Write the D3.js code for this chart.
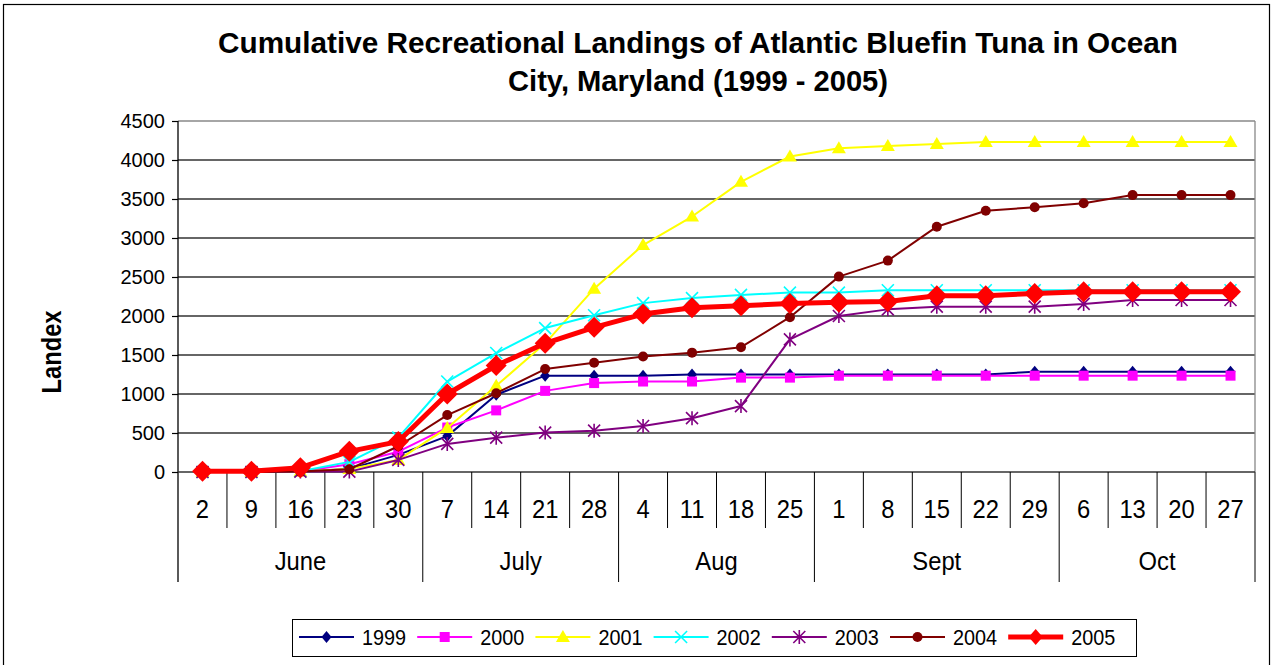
<!DOCTYPE html>
<html>
<head>
<meta charset="utf-8">
<script src="https://cdn.jsdelivr.net/npm/d3@7"></script>
<style>
  html, body { margin: 0; padding: 0; background: #fff; }
  svg { display: block; }
  text { font-family: "Liberation Sans", Arial, sans-serif; fill: #000; }
</style>
</head>
<body>
<svg id="chart" width="1275" height="665"></svg>
<script>
// Weekly tallies, June through October
const days = ["2","9","16","23","30","7","14","21","28","4","11","18","25","1","8","15","22","29","6","13","20","27"];
const months = [
  { name: "June",  start: 0,  end: 5 },
  { name: "July",  start: 5,  end: 9 },
  { name: "Aug",   start: 9,  end: 13 },
  { name: "Sept",  start: 13, end: 18 },
  { name: "Oct",   start: 18, end: 22 }
];
const yTicks = [0, 500, 1000, 1500, 2000, 2500, 3000, 3500, 4000, 4500];

const y1999 = [0,0,5,40,220,460,990,1235,1235,1235,1250,1250,1250,1250,1250,1250,1250,1285,1285,1285,1285,1285];
const y2000 = [0,0,5,100,260,570,790,1040,1140,1160,1160,1210,1210,1235,1235,1235,1235,1235,1235,1235,1235,1235];
const y2001 = [0,0,5,40,155,565,1105,1650,2350,2910,3275,3720,4045,4150,4180,4205,4230,4230,4230,4230,4230,4230];
const y2002 = [0,0,10,130,440,1160,1525,1845,2010,2165,2230,2270,2300,2300,2330,2330,2330,2330,2330,2330,2330,2330];
const y2003 = [0,0,5,5,155,360,440,505,530,590,690,845,1700,2000,2085,2120,2120,2120,2155,2205,2205,2205];
const y2004 = [0,0,5,35,330,730,1010,1320,1400,1480,1530,1600,1985,2505,2710,3145,3350,3395,3445,3550,3550,3550];
const y2005 = [10,10,55,265,390,1000,1365,1650,1855,2025,2105,2130,2160,2175,2185,2260,2260,2290,2310,2310,2310,2310];

const series = [
  { name: "1999", values: y1999, color: "#000080", marker: "diamond",  width: 2 },
  { name: "2000", values: y2000, color: "#FF00FF", marker: "square",   width: 2 },
  { name: "2001", values: y2001, color: "#FFFF00", marker: "triangle", width: 2 },
  { name: "2002", values: y2002, color: "#00FFFF", marker: "x",        width: 2 },
  { name: "2003", values: y2003, color: "#800080", marker: "star",     width: 2 },
  { name: "2004", values: y2004, color: "#800000", marker: "circle",   width: 2 },
  { name: "2005", values: y2005, color: "#FF0000", marker: "bigdiamond", width: 5 }
];

const svg = d3.select("#chart");
const plot = { left: 178, right: 1255, top: 121, bottom: 472 };
const dayRowBottom = 528, monthRowBottom = 582;

// squeeze text horizontally to a narrower set width
function condense(sel, factor) {
  sel.each(function () {
    const w = this.getComputedTextLength();
    d3.select(this).attr("textLength", w * factor).attr("lengthAdjust", "spacingAndGlyphs");
  });
}

// outer frame
svg.append("rect")
  .attr("x", 3.5).attr("y", 4.5).attr("width", 1266).attr("height", 700)
  .attr("fill", "#fff").attr("stroke", "#000").attr("stroke-width", 1.2);

const x = d3.scaleBand().domain(d3.range(days.length)).range([plot.left, plot.right]).padding(0);
const xEdge = i => plot.left + i * x.step();
const y = d3.scaleLinear().domain([0, 4500]).range([plot.bottom, plot.top]);

// title
const title = svg.append("g");
title.append("text")
  .attr("x", 698).attr("y", 53).attr("text-anchor", "middle")
  .attr("font-size", 29).attr("font-weight", "bold")
  .attr("textLength", 960).attr("lengthAdjust", "spacingAndGlyphs")
  .text("Cumulative Recreational Landings of Atlantic Bluefin Tuna in Ocean");
title.append("text")
  .attr("x", 698).attr("y", 91).attr("text-anchor", "middle")
  .attr("font-size", 29).attr("font-weight", "bold")
  .attr("textLength", 380).attr("lengthAdjust", "spacingAndGlyphs")
  .text("City, Maryland (1999 - 2005)");

// horizontal gridlines
svg.append("g").selectAll("line").data(yTicks.filter(t => t > 0)).join("line")
  .attr("x1", plot.left).attr("x2", plot.right)
  .attr("y1", d => y(d)).attr("y2", d => y(d))
  .attr("stroke", d => d === 4500 ? "#888" : "#333")
  .attr("stroke-width", 1.3);

// plot frame right edge
svg.append("line")
  .attr("x1", plot.right).attr("x2", plot.right)
  .attr("y1", plot.top).attr("y2", plot.bottom)
  .attr("stroke", "#888").attr("stroke-width", 1.3);

// y axis
const yAxis = d3.axisLeft(y).tickValues(yTicks).tickSize(6).tickPadding(7).tickFormat(d3.format("d"));
const gy = svg.append("g").attr("transform", `translate(${plot.left},0)`).call(yAxis);
gy.select(".domain").remove();
gy.selectAll(".tick line").attr("stroke", "#000").attr("stroke-width", 1.2);
gy.selectAll(".tick text").attr("font-size", 20).attr("fill", "#000")
  .style("font-family", "'Liberation Sans', Arial, sans-serif");

// left axis line running down through the category rows
svg.append("line")
  .attr("x1", plot.left).attr("x2", plot.left)
  .attr("y1", plot.top).attr("y2", monthRowBottom)
  .attr("stroke", "#000").attr("stroke-width", 1.3);
svg.append("line")
  .attr("x1", plot.right).attr("x2", plot.right)
  .attr("y1", plot.bottom).attr("y2", monthRowBottom)
  .attr("stroke", "#000").attr("stroke-width", 1);

// x axis baseline
svg.append("line")
  .attr("x1", plot.left).attr("x2", plot.right)
  .attr("y1", plot.bottom).attr("y2", plot.bottom)
  .attr("stroke", "#333").attr("stroke-width", 1.5);

// day separators and month separators
const monthEdges = new Set(months.map(m => m.start).concat([days.length]));
svg.append("g").selectAll("line").data(d3.range(1, days.length)).join("line")
  .attr("x1", d => xEdge(d)).attr("x2", d => xEdge(d))
  .attr("y1", plot.bottom)
  .attr("y2", d => monthEdges.has(d) ? monthRowBottom : dayRowBottom)
  .attr("stroke", "#000").attr("stroke-width", 1);

// day labels
svg.append("g").selectAll("text").data(days).join("text")
  .attr("x", (d, i) => x(i) + x.bandwidth() / 2)
  .attr("y", 518)
  .attr("text-anchor", "middle")
  .attr("font-size", 25)
  .text(d => d)
  .call(condense, 0.95);

// month labels
svg.append("g").selectAll("text").data(months).join("text")
  .attr("x", m => (xEdge(m.start) + xEdge(m.end)) / 2)
  .attr("y", 570)
  .attr("text-anchor", "middle")
  .attr("font-size", 25)
  .text(m => m.name)
  .call(condense, 0.95);

// y axis title
svg.append("text")
  .attr("transform", "translate(61,352) rotate(-90)")
  .attr("text-anchor", "middle")
  .attr("font-size", 27).attr("font-weight", "bold")
  .attr("textLength", 83).attr("lengthAdjust", "spacingAndGlyphs")
  .text("Landex");

// marker drawing
function drawMarker(g, type, color) {
  switch (type) {
    case "diamond":
      g.append("path").attr("d", "M0,-6L5,0L0,6L-5,0Z").attr("fill", color);
      break;
    case "bigdiamond":
      g.append("path").attr("d", "M0,-10.5L10.5,0L0,10.5L-10.5,0Z").attr("fill", color);
      break;
    case "legenddiamond":
      g.append("path").attr("d", "M0,-8L7,0L0,8L-7,0Z").attr("fill", color);
      break;
    case "square":
      g.append("rect").attr("x", -5).attr("y", -5).attr("width", 10).attr("height", 10).attr("fill", color);
      break;
    case "triangle":
      g.append("path").attr("d", "M0,-7L7,5L-7,5Z").attr("fill", color);
      break;
    case "circle":
      g.append("circle").attr("r", 5).attr("fill", color);
      break;
    case "x":
      g.append("path").attr("d", "M-6,-6L6,6M-6,6L6,-6").attr("stroke", color).attr("stroke-width", 1.6).attr("fill", "none");
      break;
    case "star":
      g.append("path").attr("d", "M-6,-6L6,6M-6,6L6,-6M0,-7L0,7").attr("stroke", color).attr("stroke-width", 1.6).attr("fill", "none");
      break;
  }
}

// series lines and markers
const line = d3.line().x((d, i) => x(i) + x.bandwidth() / 2).y(d => y(d));
series.forEach(s => {
  const g = svg.append("g");
  g.append("path").datum(s.values)
    .attr("d", line)
    .attr("fill", "none")
    .attr("stroke", s.color)
    .attr("stroke-width", s.width)
    .attr("stroke-linejoin", "round");
  g.selectAll("g.pt").data(s.values).join("g")
    .attr("class", "pt")
    .attr("transform", (d, i) => `translate(${x(i) + x.bandwidth() / 2},${y(d)})`)
    .each(function () { drawMarker(d3.select(this), s.marker, s.color); });
});

// legend
const legend = svg.append("g");
legend.append("rect")
  .attr("x", 292.5).attr("y", 619.5).attr("width", 844).attr("height", 37)
  .attr("fill", "#fff").attr("stroke", "#000").attr("stroke-width", 1);
series.forEach((s, i) => {
  const x0 = 299 + i * 118.2, cy = 637;
  const item = legend.append("g");
  item.append("line")
    .attr("x1", x0).attr("x2", x0 + 55).attr("y1", cy).attr("y2", cy)
    .attr("stroke", s.color).attr("stroke-width", s.width);
  const m = item.append("g").attr("transform", `translate(${x0 + 27.5},${cy})`);
  drawMarker(m, s.marker === "bigdiamond" ? "legenddiamond" : s.marker, s.color);
  item.append("text")
    .attr("x", x0 + 63).attr("y", cy + 8)
    .attr("font-size", 22)
    .text(s.name)
    .call(condense, 0.9);
});
</script>
</body>
</html>
